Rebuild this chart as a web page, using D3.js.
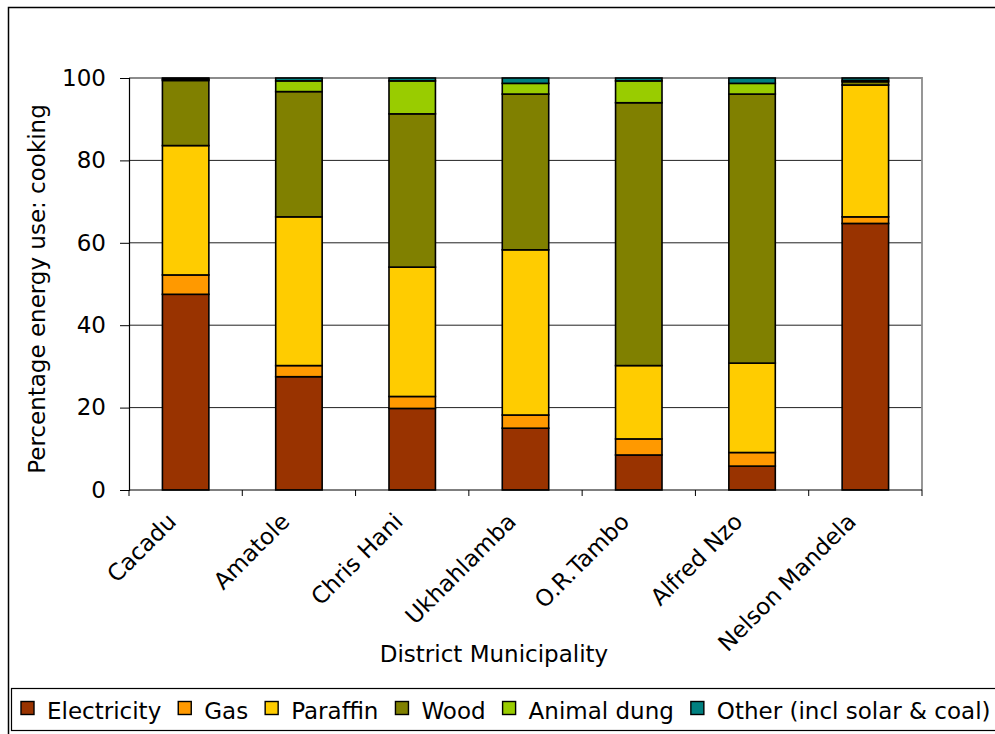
<!DOCTYPE html>
<html>
<head>
<meta charset="utf-8">
<script src="https://cdn.jsdelivr.net/npm/d3@7"></script>
<style>
  html, body { margin: 0; padding: 0; background: #fff; }
  svg { display: block; font-family: "DejaVu Sans", Verdana, sans-serif; }
</style>
</head>
<body>
<svg id="chart" width="995" height="734"></svg>
<script>
// District municipalities (Eastern Cape) and share of households by cooking fuel, %
const categories = ["Cacadu", "Amatole", "Chris Hani", "Ukhahlamba", "O.R.Tambo", "Alfred Nzo", "Nelson Mandela"];
const electricity = [47.5, 27.5, 19.8, 15.0, 8.5, 5.8, 64.7];
const gas         = [4.7, 2.7, 2.9, 3.2, 3.9, 3.3, 1.6];
const paraffin    = [31.4, 36.1, 31.4, 40.1, 17.8, 21.7, 32.0];
const wood        = [15.8, 30.4, 37.2, 37.8, 63.8, 65.3, 0.8];
const animalDung  = [0.3, 2.6, 8.0, 2.6, 5.3, 2.6, 0.3];
const other       = [0.3, 0.7, 0.7, 1.3, 0.7, 1.3, 0.6];

const seriesNames = ["Electricity", "Gas", "Paraffin", "Wood", "Animal dung", "Other (incl solar & coal)"];
const seriesValues = [electricity, gas, paraffin, wood, animalDung, other];
const seriesColors = ["#993300", "#FF9900", "#FFCC00", "#808000", "#99CC00", "#008080"];
const yTicks = [0, 20, 40, 60, 80, 100];

const yTitle = "Percentage energy use: cooking";
const xTitle = "District Municipality";

const svg = d3.select("#chart");
const fontSize = 23;

// Outer chart frame
svg.append("rect")
  .attr("x", 8.5).attr("y", 7.5)
  .attr("width", 1000).attr("height", 1000)
  .attr("fill", "#fff").attr("stroke", "#000").attr("stroke-width", 1.5);

const plot = { left: 129, right: 922, top: 78, bottom: 490 };

const x = d3.scaleBand()
  .domain(categories)
  .range([plot.left, plot.right])
  .paddingInner(0.59)
  .paddingOuter(0.295);

const y = d3.scaleLinear().domain([0, 100]).range([plot.bottom, plot.top]);

// Gridlines
svg.append("g")
  .selectAll("line")
  .data(yTicks.filter(t => t > 0 && t < 100))
  .join("line")
  .attr("x1", plot.left).attr("x2", plot.right)
  .attr("y1", d => y(d)).attr("y2", d => y(d))
  .attr("stroke", "#222").attr("stroke-width", 1);

// Plot area border (top and right in grey)
svg.append("path")
  .attr("d", `M${plot.left},${plot.top}H${plot.right}V${plot.bottom}`)
  .attr("fill", "none").attr("stroke", "#8c8c8c").attr("stroke-width", 1.8);

// Stacked data
const rows = categories.map((c, i) => {
  const r = { category: c };
  seriesNames.forEach((s, k) => { r[s] = seriesValues[k][i]; });
  return r;
});
const stacked = d3.stack().keys(seriesNames)(rows);

svg.append("g")
  .selectAll("g")
  .data(stacked)
  .join("g")
  .attr("fill", (d, i) => seriesColors[i])
  .selectAll("rect")
  .data(d => d)
  .join("rect")
  .attr("x", d => x(d.data.category))
  .attr("width", x.bandwidth())
  .attr("y", d => y(d[1]))
  .attr("height", d => y(d[0]) - y(d[1]))
  .attr("stroke", "#000")
  .attr("stroke-width", 1.6);

// Y axis
const yAxis = d3.axisLeft(y).tickValues(yTicks).tickSize(9).tickPadding(14).tickFormat(d3.format("d"));
const gy = svg.append("g").attr("transform", `translate(${plot.left},0)`).call(yAxis);
gy.select(".domain").attr("stroke", "#000").attr("stroke-width", 1.2);
gy.selectAll(".tick line").attr("stroke", "#000").attr("stroke-width", 1);
gy.selectAll(".tick text")
  .attr("font-size", fontSize).attr("font-family", "DejaVu Sans").attr("fill", "#000");

// X axis: ticks at category boundaries
const gx = svg.append("g").attr("transform", `translate(0,${plot.bottom})`);
gx.append("line")
  .attr("x1", plot.left).attr("x2", plot.right)
  .attr("stroke", "#000").attr("stroke-width", 1.2);
const step = x.step();
gx.selectAll("line.tick")
  .data(d3.range(categories.length + 1))
  .join("line")
  .attr("class", "tick")
  .attr("x1", i => plot.left + i * step).attr("x2", i => plot.left + i * step)
  .attr("y1", 0).attr("y2", 6)
  .attr("stroke", "#000").attr("stroke-width", 1);
gx.selectAll("text")
  .data(categories)
  .join("text")
  .attr("transform", d => `translate(${x(d) + x.bandwidth() / 2 - 8},${33}) rotate(-45)`)
  .attr("text-anchor", "end")
  .attr("font-size", fontSize)
  .attr("fill", "#000")
  .text(d => d);

// Axis titles
svg.append("text")
  .attr("transform", `translate(45,289) rotate(-90)`)
  .attr("text-anchor", "middle")
  .attr("font-size", fontSize)
  .text(yTitle);

svg.append("text")
  .attr("x", 494).attr("y", 662)
  .attr("text-anchor", "middle")
  .attr("font-size", fontSize)
  .text(xTitle);

// Legend
svg.append("rect")
  .attr("x", 11.5).attr("y", 688.5)
  .attr("width", 1000).attr("height", 42)
  .attr("fill", "#fff").attr("stroke", "#000").attr("stroke-width", 1.2);

const legend = svg.append("g");
let lx = 21;
seriesNames.forEach((name, i) => {
  legend.append("rect")
    .attr("x", lx).attr("y", 701.5)
    .attr("width", 13).attr("height", 13)
    .attr("fill", seriesColors[i]).attr("stroke", "#000").attr("stroke-width", 1.4);
  const t = legend.append("text")
    .attr("x", lx + 26).attr("y", 719)
    .attr("font-size", fontSize)
    .text(name);
  lx += 26 + t.node().getComputedTextLength() + 17;
});
</script>
</body>
</html>
